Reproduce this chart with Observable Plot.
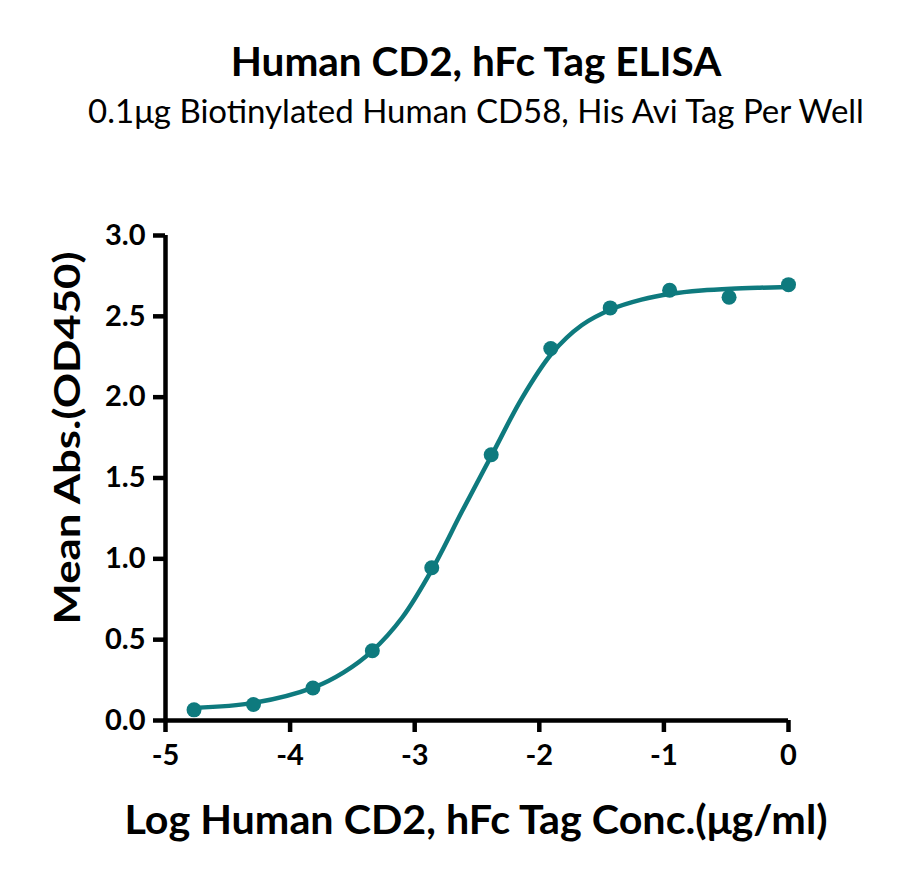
<!DOCTYPE html>
<html>
<head>
<meta charset="utf-8">
<script src="https://cdn.jsdelivr.net/npm/d3@7"></script>
<script src="https://cdn.jsdelivr.net/npm/@observablehq/plot@0.6"></script>
<style>
  body { margin: 0; background: #fff; font-family: Lato, "Noto Sans", sans-serif; }
  #wrap { position: relative; width: 900px; height: 882px; }
  .title { position: absolute; left: 0; width: 900px; padding-left: 52px; box-sizing: border-box; text-align: center; white-space: nowrap; color: #000; }
  #t1 { top: 41px; font-size: 40.5px; font-weight: 700; line-height: 40px; }
  #t2 { top: 94px; font-size: 33px; font-weight: 400; line-height: 32px; }
  #chart { position: absolute; left: 0; top: 150px; }
</style>
</head>
<body>
<div id="wrap">
  <div class="title" id="t1">Human CD2, hFc Tag ELISA</div>
  <div class="title" id="t2">0.1μg Biotinylated Human CD58, His Avi Tag Per Well</div>
  <div id="chart"></div>
</div>
<script>
// Measured points (log concentration, mean OD450)
const logConc = [-4.771, -4.294, -3.817, -3.340, -2.863, -2.386, -1.908, -1.431, -0.954, -0.477, 0];
const meanAbs = [0.066, 0.099, 0.201, 0.431, 0.945, 1.644, 2.301, 2.552, 2.661, 2.618, 2.696];

// Fitted curve
const curveX = [-4.771, -4.29, -3.81, -3.57, -3.34, -3.10, -2.86, -2.62, -2.38, -2.14, -1.90, -1.66, -1.42, -1.18, -0.94, -0.70, -0.46, -0.23, 0];
const curveY = [0.078, 0.109, 0.205, 0.298, 0.431, 0.637, 0.935, 1.294, 1.644, 1.993, 2.270, 2.445, 2.544, 2.603, 2.640, 2.660, 2.671, 2.677, 2.681];

const xTicks = [-5, -4, -3, -2, -1, 0];
const yTicks = [0.0, 0.5, 1.0, 1.5, 2.0, 2.5, 3.0];
const xLabel = "Log Human CD2, hFc Tag Conc.(μg/ml)";
const yLabel = "Mean Abs.(OD450)";

const teal = "#0e7a7e";
const points = logConc.map((x, i) => ({x, y: meanAbs[i]}));
const curve = curveX.map((x, i) => ({x, y: curveY[i]}));

const plot = Plot.plot({
  width: 900,
  height: 732,
  marginTop: 85,
  marginBottom: 162,
  marginLeft: 165,
  marginRight: 112,
  style: { fontFamily: "Lato, 'Noto Sans', sans-serif", background: "#fff", color: "#000", overflow: "visible" },
  x: { domain: [-5, 0] },
  y: { domain: [0, 3] },
  marks: [
    Plot.axisX({ ticks: xTicks, tickFormat: d => String(d), tickSize: 12, tickPadding: 12, strokeWidth: 4.5, fontSize: 29, fontWeight: 700, label: null }),
    Plot.axisY({ ticks: yTicks, tickFormat: d => d.toFixed(1), tickSize: 12, tickPadding: 8, strokeWidth: 4.5, fontSize: 29, fontWeight: 700, label: null }),
    Plot.ruleX([-5], { y1: 0, y2: 3, stroke: "#000", strokeWidth: 4.5 }),
    Plot.ruleY([0], { x1: -5, x2: 0, stroke: "#000", strokeWidth: 4.5 }),
    Plot.line(curve, { x: "x", y: "y", curve: "catmull-rom", stroke: teal, strokeWidth: 4.5 }),
    Plot.dot(points, { x: "x", y: "y", r: 7.5, fill: teal, stroke: "none" }),
    Plot.text([xLabel], { frameAnchor: "bottom", textAnchor: "middle", dx: -1, dy: 113, fontSize: 40, fontWeight: 700, fill: "#000" }),
    Plot.text([yLabel], { frameAnchor: "left", textAnchor: "middle", dx: -97, dy: -40, rotate: -90, fontSize: 36, fontWeight: 700, fill: "#000" })
  ]
});
d3.select(plot).selectAll("text").each(function () {
  const t = this.textContent;
  if (t === xLabel) d3.select(this).attr("textLength", 703).attr("lengthAdjust", "spacingAndGlyphs");
  if (t === yLabel) d3.select(this).attr("textLength", 373).attr("lengthAdjust", "spacingAndGlyphs");
});
document.getElementById("chart").appendChild(plot);
</script>
</body>
</html>
